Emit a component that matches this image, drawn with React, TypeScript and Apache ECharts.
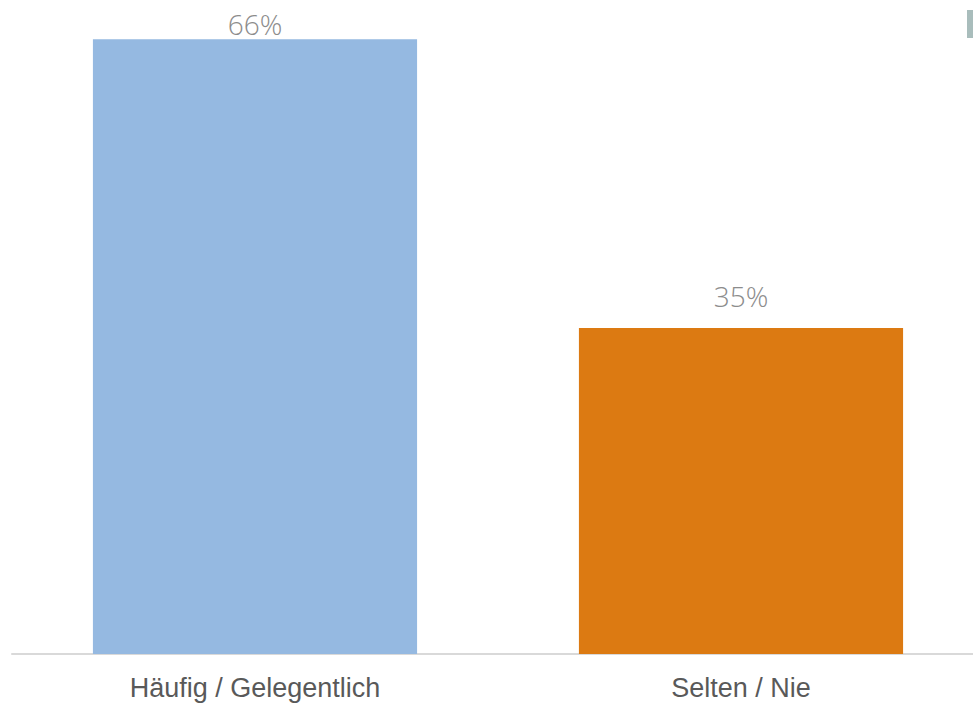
import React, { useEffect, useRef } from "react";
import * as echarts from "echarts";

const categories = ["Häufig / Gelegentlich", "Selten / Nie"];
const values = [66, 35];
const barColors = ["#95b9e1", "#dc7a12"];
const labelDistances = [1, 18];

export default function App() {
  const ref = useRef<HTMLDivElement>(null);
  useEffect(() => {
    document.body.style.margin = "0";
    document.body.style.overflow = "hidden";
    const chart = echarts.init(ref.current!, null, { renderer: "svg" });
    chart.setOption({
      animation: false,
      backgroundColor: "#ffffff",
      grid: { left: 12, right: 1, top: 2, bottom: 50, containLabel: false },
      xAxis: {
        type: "category",
        data: categories,
        axisLine: { show: true, lineStyle: { color: "#d9d9d9", width: 2 } },
        axisTick: { show: false },
        axisLabel: {
          color: "#595959",
          fontSize: 27,
          fontFamily: "Liberation Sans, Arial, sans-serif",
          margin: 20,
        },
      },
      yAxis: {
        type: "value",
        min: 0,
        max: 70,
        show: false,
        splitLine: { show: false },
      },
      series: [
        {
          type: "bar",
          data: values.map((v, i) => ({
            value: v,
            itemStyle: { color: barColors[i] },
            label: { distance: labelDistances[i] },
          })),
          barCategoryGap: "33.3%",
          label: {
            show: true,
            position: "top",
            formatter: "{c}%",
            color: "#8c8c8c",
            fontSize: 28,
            fontWeight: 300,
            fontFamily: "Open Sans, Noto Sans, sans-serif",
          },
        },
      ],
      graphic: [
        {
          type: "rect",
          shape: { x: 967, y: 10, width: 8, height: 28 },
          style: { fill: "#a9bdbc" },
        },
      ],
    });
    return () => chart.dispose();
  }, []);
  return <div ref={ref} style={{ width: 985, height: 704 }} />;
}
